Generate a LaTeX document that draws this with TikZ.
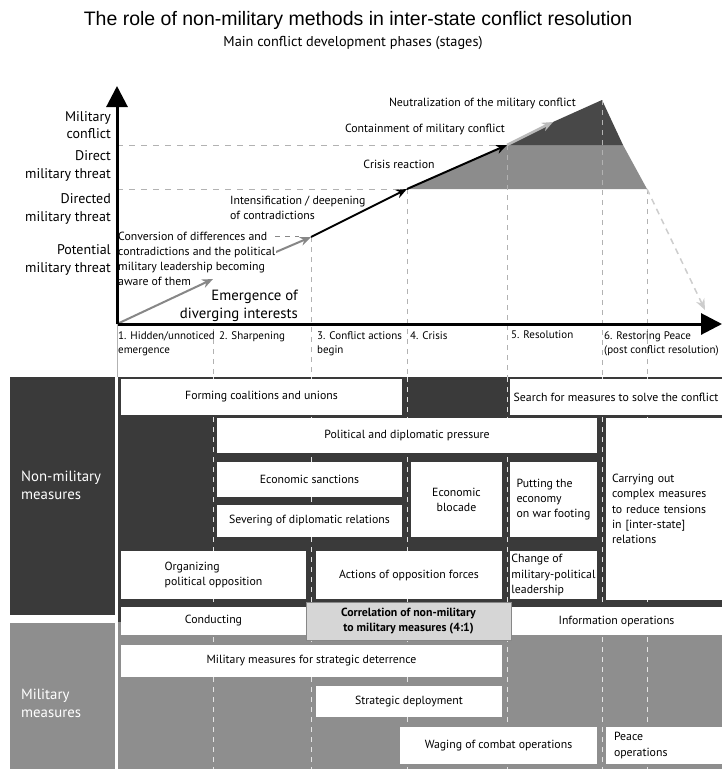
\documentclass[tikz,border=0pt]{standalone}
\usepackage{fontspec}
\setmainfont{PT Sans}
\newfontfamily\titlefont{Liberation Sans}
\usepackage{tikz}
\usetikzlibrary{arrows.meta,shapes,positioning}
\usepackage{xcolor}
\definecolor{nmdark}{RGB}{58,58,58}
\definecolor{mgrey}{RGB}{142,142,142}
\definecolor{areadarkc}{RGB}{72,72,72}
\definecolor{areamidc}{RGB}{140,140,140}
\definecolor{dashgrey}{RGB}{178,178,178}
\definecolor{arrowgrey}{RGB}{135,135,135}
\definecolor{lightarrow}{RGB}{185,185,185}
\definecolor{fadegrey}{RGB}{205,205,205}
\definecolor{corrfill}{RGB}{214,214,214}
\definecolor{tabledash}{RGB}{228,228,228}
\newcommand{\boxfont}{\fontsize{11.8}{15.2}\selectfont}
\newcommand{\stagefont}{\fontsize{11}{14.5}\selectfont}
\newcommand{\sidefont}{\fontsize{14}{17.5}\selectfont}
\newcommand{\headfont}{\fontsize{14.8}{18}\selectfont}
\tikzstyle{measure} = [rectangle, fill=white, inner sep=1pt, align=center, font=\boxfont]
\tikzstyle{stagelabel} = [anchor=north west, align=left, inner sep=0pt, font=\stagefont]
\tikzstyle{levellabel} = [anchor=east, align=right, inner sep=0pt, font=\sidefont]
\tikzstyle{chartlabel} = [inner sep=1pt, font=\boxfont]
\tikzstyle{sidelabel} = [anchor=west, align=left, inner sep=0pt, text=white, font=\headfont]
\tikzstyle{levelline} = [dashed, dash pattern=on 6pt off 6pt, color=dashgrey, line width=0.8pt]
\tikzstyle{phaseline} = [dash pattern=on 5pt off 5pt, color=dashgrey, line width=0.8pt]
\tikzstyle{tableline} = [dash pattern=on 5pt off 5pt, color=tabledash, line width=1pt]
\tikzstyle{axis} = [line width=3pt, -{Triangle[length=21pt,width=21pt]}]
\tikzstyle{darrow} = [line width=2pt, -{Stealth[length=11pt,width=9pt]}]
\tikzstyle{garrow} = [darrow, color=arrowgrey]
\tikzstyle{larrow} = [darrow, line width=2.5pt, color=lightarrow]
\tikzstyle{fadearrow} = [line width=1.5pt, dash pattern=on 6pt off 5pt, color=fadegrey, -{Stealth[length=11pt,width=9pt]}]
\begin{document}
\begin{tikzpicture}[x=1pt, y=-1pt]
\useasboundingbox (0,0) rectangle (722,769);

% Title
\node (title) [font=\titlefont\fontsize{19.5}{22}\selectfont] at (358,20) {The role of non-military methods in inter-state conflict resolution};
\node (subtitle) [font=\fontsize{14.3}{17}\selectfont] at (353,43) {Main conflict development phases (stages)};

% Chart points
\coordinate (o) at (117,324);
\coordinate (ytop) at (117,86);
\coordinate (xend) at (722,324);
\coordinate (p1) at (213,279);
\coordinate (p2) at (311,237);
\coordinate (p3) at (407,189);
\coordinate (p4) at (507,145);
\coordinate (p5) at (553,122);
\coordinate (peak) at (602,100);
\coordinate (r4) at (623,145);
\coordinate (r3) at (647,189);
\coordinate (q) at (705,310);
\coordinate (ttop) at (0,377);
\coordinate (tbot) at (0,769);

\fill[areamidc] (p3) -- (p4) -- (r4) -- (r3) -- cycle;
\fill[areadarkc] (p4) -- (p5) -- (peak) -- (r4) -- cycle;
\draw[levelline] (o |- p3) -- (p3);
\draw[levelline] (o |- p4) -- (p4);
\foreach \p in {p1,p2,p3,p4,peak,r3}
  \draw[phaseline] (\p) -- (\p |- ttop);

% Threat levels
\node (conflict) [levellabel] at (111,125) {Military\\conflict};
\node (direct) [levellabel] at (111,166) {Direct\\military threat};
\node (directed) [levellabel] at (111,209) {Directed\\military threat};
\node (potential) [levellabel] at (111,260) {Potential\\military threat};

% Development line
\draw[garrow] (p1) -- (p2);
\node (neutral) [chartlabel, anchor=east] at (577,104) {Neutralization of the military conflict};
\node (contain) [chartlabel] at (425,130) {Containment of military conflict};
\node (crisis) [chartlabel] at (399,164) {Crisis reaction};
\node (intens) [chartlabel, anchor=west, align=left] at (229,208) {Intensification / deepening\\of contradictions};
\node (convers) [chartlabel, anchor=west, align=left, fill=white] at (117,259) {Conversion of differences and\\contradictions and the political\\military leadership becoming\\aware of them};
\node (emerge) [anchor=east, align=right, inner sep=1pt, fill=white, font=\headfont] at (299,306) {Emergence of\\diverging interests};
\coordinate (convend) at (275,236);
\draw[phaseline, color=arrowgrey] (convend) -- (299,236);
\draw[garrow] (o) -- (p1);
\draw[darrow] (p2) -- (p3);
\draw[darrow] (p3) -- (p4);
\draw[larrow] (p4) -- (p5);
\draw[fadearrow] (r3) -- (q);

% Axes
\draw[axis] (o) -- (ytop);
\draw[axis] (o) -- (xend);
\draw[line width=0.8pt, color=dashgrey] (o) -- (o |- ttop);

% Stages
\node (s1) [stagelabel] at (118,331) {1. Hidden/unnoticed\\emergence};
\node (s2) [stagelabel] at (219,331) {2. Sharpening};
\node (s3) [stagelabel] at (317,331) {3. Conflict actions\\begin};
\node (s4) [stagelabel] at (410,331) {4. Crisis};
\node (s5) [stagelabel] at (511,331) {5. Resolution};
\node (s6) [stagelabel] at (604,331) {6. Restoring Peace\\(post conflict resolution)};

% Measures table
\fill[nmdark] (10,377) rectangle (115,615);
\fill[nmdark] (118,377) rectangle (722,622);
\fill[mgrey] (10,623) rectangle (115,769);
\fill[mgrey] (118,622) rectangle (722,769);
\node (nonmil) [sidelabel] at (21,485) {Non-military\\measures};
\node (mil) [sidelabel] at (21,703) {Military\\measures};
\foreach \p in {p1,p2,p3,p4,peak,r3}
  \draw[tableline] (\p |- ttop) -- (\p |- tbot);

% Non-military measures
\node (forming) [measure, minimum width=281, minimum height=36] at (261.5,397) {Forming coalitions and unions};
\node (search) [measure, minimum width=212, minimum height=36] at (616,397) {Search for measures to solve the conflict};
\node (political) [measure, minimum width=380, minimum height=35] at (407,435.5) {Political and diplomatic pressure};
\node (carrying) [measure, minimum width=116, minimum height=182, text width=104, align=left] at (664,509) {Carrying out\\complex measures\\to reduce tensions\\in [inter-state]\\relations};
\node (sanctions) [measure, minimum width=185, minimum height=35] at (309.5,479.5) {Economic sanctions};
\node (severing) [measure, minimum width=185, minimum height=32] at (309.5,521) {Severing of diplomatic relations};
\node (blocade) [measure, minimum width=91, minimum height=75] at (456.5,499.5) {Economic\\blocade};
\node (putting) [measure, minimum width=87, minimum height=75, align=left] at (553.5,499.5) {Putting the\\economy\\on war footing};
\node (organizing) [measure, minimum width=185, minimum height=48, align=left] at (213.5,575) {Organizing\\political opposition};
\node (actions) [measure, minimum width=186, minimum height=48] at (409,575) {Actions of opposition forces};
\node (change) [measure, minimum width=87, minimum height=48, align=left] at (553.5,575) {Change of\\military-political\\leadership};
\node (conducting) [measure, minimum width=185, minimum height=28] at (213.5,621) {Conducting};
\node (info) [measure, minimum width=211, minimum height=28] at (616.5,621) {Information operations};
\node (correlation) [measure, fill=corrfill, draw=arrowgrey, line width=0.6pt, minimum width=205, minimum height=38, font=\boxfont\bfseries] at (408.5,621) {Correlation of non-military\\to military measures (4:1)};

% Military measures
\node (deterrence) [measure, minimum width=381, minimum height=32] at (311.5,661) {Military measures for strategic deterrence};
\node (deployment) [measure, minimum width=186, minimum height=31] at (409,701.5) {Strategic deployment};
\node (waging) [measure, minimum width=197, minimum height=37] at (498.5,745.5) {Waging of combat operations};
\node (peace) [measure, minimum width=116, minimum height=37, text width=100, align=left] at (664,745.5) {Peace\\operations};
\end{tikzpicture}
\end{document}
